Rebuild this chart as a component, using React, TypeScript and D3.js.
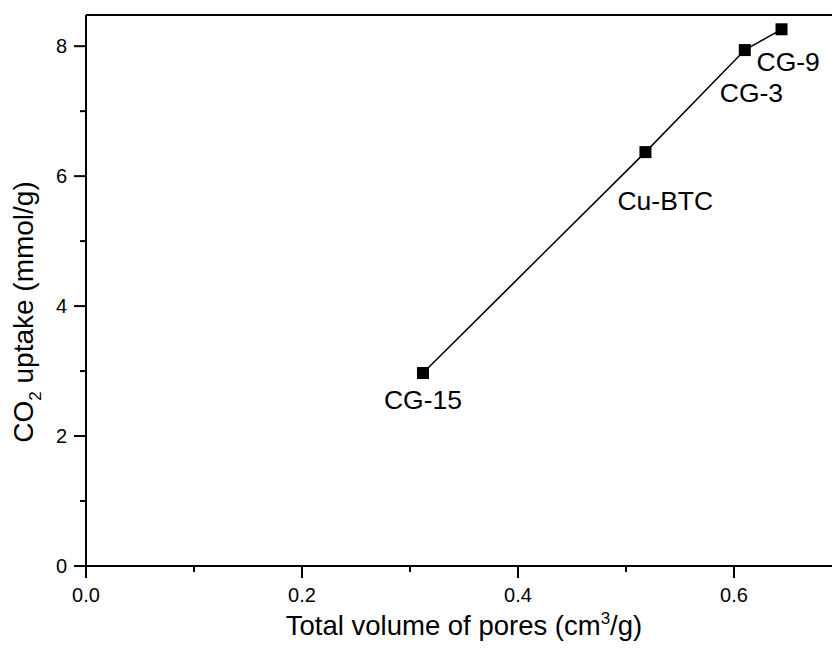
import React from 'react';
import * as d3 from 'd3';

// samples, in the order the line joins them
const samples = ['CG-15', 'Cu-BTC', 'CG-3', 'CG-9'];
const poreVolume = [0.312, 0.518, 0.610, 0.644]; // cm3/g
const co2Uptake = [2.97, 6.37, 7.94, 8.26]; // mmol/g

const xMajorTicks = [0, 0.2, 0.4, 0.6];
const xMinorTicks = [0.1, 0.3, 0.5];
const yMajorTicks = [0, 2, 4, 6, 8];
const yMinorTicks = [1, 3, 5, 7];

// where each sample name sits relative to its marker
const labelOffsets: Record<string, [number, number, string]> = {
  'CG-15': [0, 36, 'middle'],
  'Cu-BTC': [-28, 58, 'start'],
  'CG-3': [-25, 52, 'start'],
  'CG-9': [-25, 42, 'start'],
};

const W = 832;
const H = 648;
const FONT = '"Liberation Sans", Arial, sans-serif';

export default function App() {
  const x = d3.scaleLinear().domain([0, 0.7]).range([86, 842]);
  const y = d3.scaleLinear().domain([0, 8.48]).range([566, 15]);

  const pts = samples.map((s, i) => ({ name: s, vx: poreVolume[i], vy: co2Uptake[i] }));
  const line = d3.line<{ vx: number; vy: number }>()
    .x(d => x(d.vx))
    .y(d => y(d.vy));

  const x0 = x(0);
  const y0 = y(0);
  const yTop = y.range()[1];
  const xEnd = x.range()[1];

  return (
    <div style={{ position: 'absolute', left: 0, top: 0 }}>
      <svg width={W} height={H} style={{ display: 'block', background: '#fff' }} fontFamily={FONT}>
        {/* frame: left, bottom, top (right side falls off the canvas) */}
        <line x1={x0} y1={yTop} x2={xEnd} y2={yTop} stroke="#000" strokeWidth={2} />
        <line x1={x0} y1={yTop} x2={x0} y2={y0} stroke="#000" strokeWidth={2} />
        <line x1={x0} y1={y0} x2={xEnd} y2={y0} stroke="#000" strokeWidth={2} />

        {/* x ticks */}
        {xMajorTicks.map(t => (
          <g key={'xM' + t}>
            <line x1={x(t)} x2={x(t)} y1={y0} y2={y0 + 12} stroke="#000" strokeWidth={2} />
            <text x={x(t)} y={y0 + 36} textAnchor="middle" fontSize={20}>{t.toFixed(1)}</text>
          </g>
        ))}
        {xMinorTicks.map(t => (
          <line key={'xm' + t} x1={x(t)} x2={x(t)} y1={y0} y2={y0 + 6} stroke="#000" strokeWidth={2} />
        ))}

        {/* y ticks */}
        {yMajorTicks.map(t => (
          <g key={'yM' + t}>
            <line x1={x0 - 12} x2={x0} y1={y(t)} y2={y(t)} stroke="#000" strokeWidth={2} />
            <text x={x0 - 19} y={y(t) + 7} textAnchor="end" fontSize={20}>{t}</text>
          </g>
        ))}
        {yMinorTicks.map(t => (
          <line key={'ym' + t} x1={x0 - 6} x2={x0} y1={y(t)} y2={y(t)} stroke="#000" strokeWidth={2} />
        ))}

        {/* axis titles */}
        <text x={464} y={635} textAnchor="middle" fontSize={27.5}>
          Total volume of pores (cm<tspan dy={-11} fontSize={17}>3</tspan><tspan dy={11}>/g)</tspan>
        </text>
        <text transform="translate(33,312) rotate(-90)" textAnchor="middle" fontSize={28}>
          CO<tspan dy={8} fontSize={17}>2</tspan><tspan dy={-8}> uptake (mmol/g)</tspan>
        </text>

        {/* data */}
        <path d={line(pts) || ''} fill="none" stroke="#000" strokeWidth={1.5} />
        {pts.map(p => (
          <rect key={p.name} x={x(p.vx) - 6} y={y(p.vy) - 6} width={12} height={12} fill="#000" />
        ))}
        {pts.map(p => {
          const [dx, dy, anchor] = labelOffsets[p.name];
          return (
            <text key={'l' + p.name} x={x(p.vx) + dx} y={y(p.vy) + dy} textAnchor={anchor as any} fontSize={26.5}>
              {p.name}
            </text>
          );
        })}
      </svg>
    </div>
  );
}
